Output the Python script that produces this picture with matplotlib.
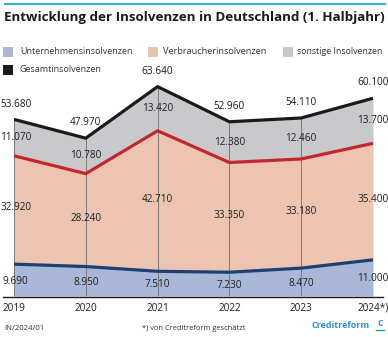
import matplotlib
matplotlib.use("Agg")
import matplotlib.pyplot as plt
from matplotlib.lines import Line2D
from matplotlib.patches import Rectangle
import numpy as np

plt.rcParams['font.family'] = ['Open Sans', 'DejaVu Sans']

years = ["2019", "2020", "2021", "2022", "2023", "2024*)"]
unternehmen = [9690, 8950, 7510, 7230, 8470, 11000]
verbraucher = [32920, 28240, 42710, 33350, 33180, 35400]
sonstige = [11070, 10780, 13420, 12380, 12460, 13700]
gesamt = [53680, 47970, 63640, 52960, 54110, 60100]

series_names = ["Unternehmensinsolvenzen", "Verbraucherinsolvenzen",
                "sonstige Insolvenzen", "Gesamtinsolvenzen"]

def fmt(v):
    return f"{v:,}".replace(",", ".")

W, H = 388, 337
fig = plt.figure(figsize=(W / 100, H / 100), dpi=100)
renderer = fig.canvas.get_renderer()

def fx(px):
    return px / W

def fy(py):
    return 1 - py / H

def fit_text(t, target_px):
    # scale font size so rendered width matches the reference width
    bb = t.get_window_extent(renderer=renderer)
    t.set_fontsize(t.get_fontsize() * target_px / bb.width)
    return t

# axes placement
ax_left, ax_right, ax_top, ax_bottom = 14, 373, 60, 296
ax = fig.add_axes([fx(ax_left), fy(ax_bottom), fx(ax_right - ax_left), (ax_bottom - ax_top) / H])
ax.axis('off')
x = np.arange(len(years))
u = np.array(unternehmen, dtype=float)
v = np.array(verbraucher, dtype=float)
s = np.array(sonstige, dtype=float)
g = np.array(gesamt, dtype=float)
uv = u + v

c_blue_fill = '#a9b8d8'
c_pink_fill = '#ecc4b1'
c_gray_fill = '#c9c9cb'
c_blue_line = '#1d3f72'
c_red_line = '#c2272d'
c_black = '#1a1a1a'

ax.fill_between(x, 0, u, color=c_blue_fill, lw=0, zorder=1)
ax.fill_between(x, u, uv, color=c_pink_fill, lw=0, zorder=1)
ax.fill_between(x, uv, g, color=c_gray_fill, lw=0, zorder=1)
for xi, gi in zip(x, g):
    ax.plot([xi, xi], [0, gi], color='#7a7a7a', lw=0.7, zorder=2)
ax.plot(x, u, color=c_blue_line, lw=2.3, zorder=3, solid_capstyle='butt')
ax.plot(x, uv, color=c_red_line, lw=2.3, zorder=3, solid_capstyle='butt')
ax.plot(x, g, color=c_black, lw=2.3, zorder=3, solid_capstyle='butt')
ax.set_xlim(0, len(years) - 1)
ax.set_ylim(0, (ax_bottom - ax_top) / 3.29 * 1000)

lab_kw = dict(va='center', fontsize=7.2, color='#1e1e1e', clip_on=False, zorder=5)
for i in range(len(years)):
    if i == 0:
        # first column: keep labels inside the left edge of the picture
        kw = dict(lab_kw, ha='left')
        xo = -13.5
    else:
        kw = dict(lab_kw, ha='center')
        xo = 0
    ax.annotate(fmt(gesamt[i]), (x[i], g[i]), xytext=(xo * 0.72, 11), textcoords='offset points', **kw)
    ax.annotate(fmt(sonstige[i]), (x[i], (uv[i] + g[i]) / 2), xytext=(xo * 0.72, 0), textcoords='offset points', **kw)
    ax.annotate(fmt(verbraucher[i]), (x[i], (u[i] + uv[i]) / 2 + 600), xytext=(xo * 0.72, 0), textcoords='offset points', **kw)
    ax.annotate(fmt(unternehmen[i]), (x[i], u[i] / 2 - 300), xytext=(-11 * 0.72 if i == 0 else 0, 0), textcoords='offset points', **kw)
    ax.text(x[i], -3700, years[i], ha='center', va='center', fontsize=7.2, color='#1e1e1e', clip_on=False)

# baseline
fig.add_artist(Line2D([fx(3), fx(383)], [fy(296.5), fy(296.5)], color='#1a1a1a', lw=1.0))
# top teal line
fig.add_artist(Line2D([fx(5), fx(385)], [fy(3.5), fy(3.5)], color='#3bb4c8', lw=1.6))

# title
t = fig.text(fx(4), fy(18), "Entwicklung der Insolvenzen in Deutschland (1. Halbjahr)",
             fontsize=10.3, fontweight='bold', color='#1a1a1a', ha='left', va='center')
fit_text(t, 381)

# legend
leg_items = [
    (3, 52, c_blue_fill, series_names[0], 20, 115),
    (148, 52, c_pink_fill, series_names[1], 163, 105),
    (283, 52, '#c8c8c8', series_names[2], 297, 86),
    (3, 70, c_black, series_names[3], 20, 83),
]
for sx, sy, col, name, tx, tw in leg_items:
    fig.add_artist(Rectangle((fx(sx), fy(sy + 5)), fx(10), 10 / H, color=col, lw=0))
    lt = fig.text(fx(tx), fy(sy), name, fontsize=6.9, color='#333333', ha='left', va='center')
    fit_text(lt, tw)

# footer
fig.text(fx(4), fy(328), "IN/2024/01", fontsize=5.6, color='#333333', ha='left', va='center')
ft = fig.text(fx(142), fy(328), "*) von Creditreform geschätzt", fontsize=5.6, color='#333333', ha='left', va='center')
fit_text(ft, 103)
lg = fig.text(fx(370), fy(326), "Creditreform", fontsize=8.2, fontweight='bold', color='#2a8fd0', ha='right', va='center')
fit_text(lg, 58)
fig.text(fx(380), fy(323.5), "C", fontsize=6, fontweight='bold', color='#2a8fd0', ha='center', va='center')
fig.add_artist(Line2D([fx(376), fx(384)], [fy(329.5), fy(329.5)], color='#2a8fd0', lw=1.0))

fig.savefig("out.png", dpi=100)
